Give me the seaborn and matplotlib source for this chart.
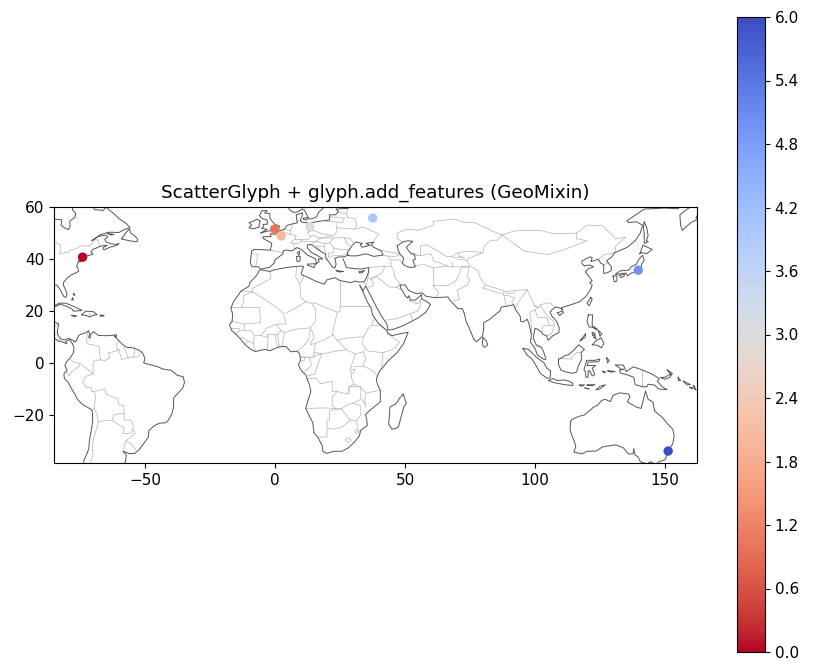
import numpy as np
import pandas as pd
import matplotlib
matplotlib.use("Agg")
import matplotlib.pyplot as plt
from matplotlib.cm import ScalarMappable
from matplotlib.colors import Normalize
import seaborn as sns

cities = ["New York", "London", "Paris", "Berlin", "Moscow", "Tokyo", "Sydney"]
lons = [-74.0, -0.1, 2.35, 13.4, 37.6, 139.7, 151.2]
lats = [40.7, 51.5, 48.85, 52.5, 55.75, 35.7, -33.9]
values = [0, 1, 2, 3, 4, 5, 6]
cbar_ticks = [0.0, 0.6, 1.2, 1.8, 2.4, 3.0, 3.6, 4.2, 4.8, 5.4, 6.0]

coast_lines = [
 [(-85,55.3),(-82,55.1),(-82.3,53),(-81,52),(-79.5,51.3),(-78.8,52.5),(-79,54.5),(-77,56),(-76.6,57.5),(-78,59),(-77.5,60.5)],
 [(-70,60.5),(-69.5,59),(-66,58.7),(-65,60),(-64,59),(-62,57.5),(-60,55.5),(-57,53.5),(-55.7,52),(-58,51.3),(-60,50.2),(-64,50.3),(-67,49.4),(-69,48),(-70.5,47),(-68,48.7),(-65,49.2),(-64.3,48.5),(-65.5,47.5),(-64.8,46.5),(-63,45.8),(-61,45.6),(-60,46),(-61,45.2),(-63.5,44.5),(-65.8,43.5),(-66.2,44.3),(-64.5,45.3),(-67,45),(-68.5,44.3),(-70,43.7),(-70.8,42.7),(-70,41.8),(-71.5,41.4),(-74,40.7),(-74,39.7),(-75,38.8),(-75.5,39.5),(-76,38),(-76.3,37),(-75.9,36.6),(-75.5,35.3),(-77,34.5),(-78.5,33.8),(-80,32.6),(-81.3,31),(-81.4,30),(-80.5,28),(-80,26.5),(-80.4,25.2),(-81.2,25.5),(-82,27),(-82.8,28.5),(-84,30),(-85,29.7),(-86,30.4)],
 [(-59,47.7),(-55.5,46.9),(-53,46.7),(-52.8,47.6),(-54,49),(-55.5,50),(-56,51.5),(-57.5,50),(-58.5,48.5),(-59,47.7)],
 [(-64.5,49.9),(-62,49.4),(-63,49.2),(-64.5,49.9)],
 [(-85,21.9),(-83,23),(-80.5,23),(-77.5,21.8),(-74.2,20.2),(-77.5,19.9),(-78,20.7),(-80,21.7),(-82.5,22.6),(-84,21.9),(-85,21.9)],
 [(-74.4,18.5),(-72.8,19.9),(-70,19.8),(-68.4,18.6),(-70,18.3),(-71.5,17.7),(-72.5,18.2),(-74.4,18.5)],
 [(-78.3,18.3),(-76.3,18.1),(-77,17.8),(-78.3,18.3)],
 [(-67.2,18.4),(-65.7,18.3),(-66,18),(-67.2,18),(-67.2,18.4)],
 [(-77.9,25),(-77.5,24.3),(-78.2,24.2),(-77.9,25)],
 [(-77.4,26.8),(-77.1,26),(-77.6,26.5),(-77.4,26.8)],
 [(-85,15.9),(-83.2,15),(-83.7,12.5),(-83.6,11),(-82.5,9.3),(-81,8.8),(-79.5,9.5),(-77.5,8.6),(-76.8,8),(-75.5,10.5),(-74.8,11),(-73,11.5),(-71.7,12.4),(-71.3,11),(-71.7,10),(-71.2,9.5),(-70.9,10.5),(-70.8,11),(-69.8,12.1),(-68,10.6),(-66,10.5),(-64,10.5),(-62,10.7),(-61,9.5),(-60,8.5),(-58.5,7),(-57,6),(-55,5.9),(-52.5,5),(-51,4),(-50,1.7),(-50.5,0),(-48,-0.7),(-45,-1.5),(-43,-2.4),(-40,-2.8),(-37.5,-4.8),(-35.3,-5.3),(-34.8,-7.5),(-35.5,-9.7),(-37.5,-11.8),(-39,-13.5),(-39,-17),(-39.7,-19.7),(-41,-22),(-42,-23),(-44.5,-23.2),(-46.5,-24.2),(-48.5,-26),(-48.7,-28.5),(-50.5,-31),(-52.5,-33.7),(-54,-34.8),(-56,-34.9),(-58.4,-34),(-57.2,-35.5),(-57.5,-38.1),(-58,-38.6)],
 [(-85.5,10),(-83.5,8.5),(-82,8.2),(-80,7.3),(-80.5,8.2),(-79,9),(-78,7.5),(-77.3,6),(-77.5,4),(-78.7,2),(-80,0.7),(-80.8,-1),(-80,-2.7),(-81.2,-4.3),(-81,-6),(-79.5,-7.5),(-78.5,-9.5),(-77,-12),(-76,-14),(-74,-16),(-71,-17.7),(-70.3,-18.5),(-70.1,-22),(-70.5,-25),(-71.4,-30),(-71.6,-33),(-72.8,-36),(-73.5,-37.5),(-73.6,-38.6)],
 [(-61.7,10.7),(-60.9,10.8),(-61,10.1),(-61.7,10.1),(-61.7,10.7)],
 [(-9,43),(-9.5,38.7),(-8.9,37),(-6.5,37),(-5.4,36.1),(-2,36.8),(-0.3,38.5),(0,39.7),(3,41.9),(3.2,43.2),(4.5,43.4),(6.5,43.1),(8.5,44.4),(10.3,43.5),(12.5,41.5),(15.6,40),(16,38.5),(15.7,38),(17,39),(16.6,40),(18.4,40),(16,41.5),(14,42.5),(12.5,44.2),(12.4,45.4),(13.8,45.6),(14.5,45.2),(17,43.3),(19.5,41.8),(19.5,40.3),(21,38.5),(22,37),(23,36.5),(23.5,38),(23,40.3),(24.5,40.8),(26.2,40.8),(27,41),(28,41.5)],
 [(26.2,40),(27,38),(27.5,36.7),(30.5,36.3),(33,36.1),(36,36.7),(36,35),(35,32.5),(34.3,31.3),(32.5,31.1),(31,31.5),(29,30.9),(25,31.7),(23,32.8),(20,32),(19,30.3),(15.5,31.5),(13,32.8),(10.5,33.8),(10,34.5),(11,37),(9.8,37.3),(5,36.8),(0,35.9),(-2,35.2),(-5.4,35.8),(-6,35.7),(-7,33.8),(-9.6,31),(-10,29.5),(-13,27.7),(-16,23.5),(-17,21),(-16.3,19),(-16.5,16),(-17.5,14.7),(-16.7,12.5),(-15,11),(-13.5,9.5),(-11.5,7),(-9,5),(-7.5,4.4),(-4,5.2),(-2,4.7),(1,6),(2.7,6.3),(4.3,6.3),(6,4.3),(8.5,4.5),(9.5,3.5),(9.8,1),(9,-0.7),(10,-2.8),(11.8,-4.6),(12.3,-6),(13.3,-8.5),(13.8,-11),(12.5,-15),(11.8,-17.5),(13.5,-21),(14.5,-22.9),(15,-27),(16.5,-28.6),(18.2,-32),(18.4,-34),(20,-34.8),(22.5,-34),(25.7,-34),(28,-32.8),(30.5,-30.5),(32.5,-28),(32.9,-26),(35.5,-24),(35.3,-22),(34.8,-19.8),(36.8,-18),(40.5,-15),(40.5,-10.5),(39.3,-8),(39,-6),(40.3,-3),(41.5,-1.7),(43.5,0.8),(47,4),(49.5,7.5),(51.2,11.8),(48,11.2),(45,10.5),(43.4,11.5),(43,12.5),(39.5,15.5),(37.5,18.5),(37,21),(35.5,23.5),(34,27),(32.6,29.9)],
 [(32.6,29.9),(33.8,27.8),(34.9,29.5),(37,25.5),(39,21.5),(41,18),(43,15),(43.4,12.7),(45,12.8),(49,14.2),(52,15.7),(55,17.3),(58,19.5),(59.8,22.4),(58.5,23.6),(56.5,24.5),(56.3,26.3),(55.5,25.5),(54,24.2),(52,24.2),(51.5,25.9),(51,25),(50.2,25.7),(48.5,28.5),(48,30),(50,30),(51.5,27.8),(54.5,26.6),(56.5,27),(58,25.7),(61.5,25.1),(66.5,25.4),(67.4,24),(69,22.3),(70.5,20.8),(72,21),(72.8,19),(73.5,16),(75,12.7),(76.5,9),(77.5,8.1),(79.8,10.3),(80.3,13.5),(80.2,15.5),(82.3,16.6),(86.5,20),(87,21.5),(89,21.8),(91.8,22.4),(92.5,20.5),(94.3,18),(94.5,16),(95.5,15.8),(97,16.8),(97.7,15),(98.6,11),(98.3,8),(100,5.5),(101,3),(103.5,1.3),(104.2,1.5),(103.4,4),(102.5,6),(100.5,7),(99.3,9.5),(100,13.3),(101,13),(102.3,12),(103,11),(104.5,10.4),(105,8.7),(106.8,10.4),(109.2,11.7),(109.3,13.5),(108.3,16),(106.5,18),(105.8,19.5),(106.8,20.7),(108,21.5),(110,21),(110.5,20.3),(110.2,21.3),(113.5,22.3),(117,23.5),(119.5,25.5),(121.5,28.5),(122,30),(121,31),(122,31.5),(120,34.3),(119.3,35),(120.5,36.2),(122.5,37),(121,37.7),(119,37.3),(118,38.3),(118,39.2),(121,40.8),(122,40.6),(121.5,39),(124.3,39.9),(125.2,38.5),(126.5,37.7),(126.3,35),(126.5,34.4),(128,34.8),(129.3,35.5),(129.4,37),(127.5,39.3),(129.5,40.8),(130.6,42.4),(132.5,43.2),(135.5,44.5),(138.5,47),(140.5,50),(141.4,53),(139,54.3),(136,54),(135.3,54.7),(138,56.5),(142,59.2),(146,59.4),(150,59.6),(155,59.3),(156.8,61)],
 [(163.5,60.5),(163,59.5),(163.2,57.8),(162,56.2),(162,55),(160,54),(158.5,52.8),(156.7,51),(156,53),(155.7,57),(157,58),(159,59.5),(161,60.5)],
 [(131,34.3),(133,35.5),(136,35.7),(137,37),(139,38),(140,40),(141.4,41.4),(142,39.5),(141,38),(140.8,35.7),(139.8,35),(137,34.6),(135.5,33.5),(135,34.6),(133,34.3),(131,34)],
 [(140.3,42),(141.5,45.3),(145,43.7),(143,42),(141,42.5),(140.3,42)],
 [(130,33.5),(131.5,33.5),(131.5,31.5),(130.5,31.2),(130,33.5)],
 [(132.5,33.7),(134.5,34.2),(134.2,33.4),(133,32.8),(132.5,33.7)],
 [(142,54.3),(143,52),(143.5,49),(142.8,47),(143.5,46.7),(142,46),(142,48),(142,50),(141.7,52),(142,54.3)],
 [(-1.8,43.4),(-8,43.7),(-9,43)],
 [(-1.8,43.4),(-1.2,46),(-4.5,47.9),(-4.7,48.5),(-1.5,48.7),(-1.8,49.7),(0.2,49.5),(1.6,50.8),(3.5,51.4),(4.8,53),(7,53.6),(8.6,53.9),(8.3,55.5),(8.2,57),(10.6,57.7),(10.3,56),(9.7,55),(10,54.4),(11,54),(14,54),(18.5,54.7),(21,55),(21,57),(23.3,57),(24.4,58.3),(23.5,59.2),(28,59.5),(30,60.5)],
 [(5,60.5),(5.5,59),(7,58),(8.5,58),(10.5,59.3),(11.5,58.5),(12.5,56.5),(13,55.4),(14.3,55.5),(16,56.2),(16.8,58),(18.5,59.5),(17.5,60.5)],
 [(-5.5,50),(-3,50.7),(1.3,51.2),(1.7,52.7),(0,53.3),(-1.5,55),(-2,56),(-2,57.5),(-4,57.7),(-3,58.6),(-5,58.6),(-6,56.7),(-4.8,55.5),(-3,55),(-3,53.4),(-4.5,53.3),(-4.3,52.5),(-5.2,51.8),(-3,51.4),(-5.5,50)],
 [(-6.2,52.2),(-6,53.8),(-5.6,54.6),(-7,55.3),(-8.5,54.5),(-10,54),(-9,53),(-10,52),(-8.5,51.6),(-6.2,52.2)],
 [(11,55.7),(12.5,56),(12.2,55),(11,55.2),(11,55.7)],
 [(28,41.5),(29,41.2),(31.5,41.2),(35,42),(38,41),(41.5,41.5),(41,43),(38,44.5),(37,45.3),(38,46.5),(35,46),(36.5,45.3),(35,44.9),(33.5,44.5),(32.8,45.5),(33.6,46),(31,46.5),(29.7,45.2),(28.5,43.5),(27.8,42.5),(28,41.5)],
 [(47,45),(49,46.5),(51,47),(53,46.8),(51,45),(50.5,44.4),(51.5,43),(52.5,42),(53.5,42),(54,40),(53,39.5),(54,37),(52,36.7),(50,37.4),(49,38.3),(49.5,40.3),(48,42),(47.3,43.5),(47,45)],
 [(95.3,5.6),(97.5,5.2),(100.5,2.2),(103.5,0),(104.5,-2),(106,-3),(105.8,-5.8),(104.5,-5.8),(102,-4),(100.4,-1),(98.7,1.7),(97,3),(95.3,5.6)],
 [(105.2,-6.8),(106.8,-6),(108.7,-6.8),(111,-6.5),(113,-7),(114.5,-7.8),(114.5,-8.7),(111,-8.3),(107,-7.5),(105.2,-6.8)],
 [(109,1.5),(110,1.7),(111.2,2.7),(113,3.2),(115,5),(116.8,7),(119,5.2),(117.7,4),(118,2),(117.5,0.5),(116.5,-1.5),(116,-3.5),(114.5,-4),(111.7,-3.4),(110,-2.8),(109,-0.5),(109,1.5)],
 [(119.8,0.7),(120,1),(123,1),(125,1.5),(124.5,0.5),(120.5,0.3),(120,-1),(121.5,-1),(123.3,-1),(122,-2),(123,-4.5),(122,-5),(121,-3),(120.5,-3),(120.4,-5.5),(119.5,-5.5),(119.5,-3.5),(118.8,-2.7),(119.8,0.7)],
 [(120.5,18.5),(122.2,18.5),(122,16),(122,14.3),(124,13),(123.8,12.7),(122,13.8),(120.8,13.8),(120,16),(120.5,18.5)],
 [(122,7),(123.5,8.5),(125.4,9.7),(126.5,7.5),(125.5,5.8),(124,6.8),(122,7)],
 [(117.2,8.4),(119.5,11.3),(119.3,10),(117.5,8.5)],
 [(124.3,12.5),(125.7,11.2),(125,10.2),(124.3,12.5)],
 [(122,11.8),(123.1,11.4),(122.1,10.5),(122,11.8)],
 [(123,10.9),(123.5,9.2),(122.5,9.9),(123,10.9)],
 [(127.5,2),(128.5,1),(127.9,0),(127.5,2)],
 [(128,-3),(130.8,-3.3),(129,-3.5),(128,-3)],
 [(126,-3.2),(127.2,-3.5),(126.5,-3.8),(126,-3.2)],
 [(123.5,-10.3),(125,-9),(127,-8.4),(125,-10),(123.5,-10.3)],
 [(120,-8.5),(123,-8.3),(122,-8.8),(120,-8.5)],
 [(117,-8.5),(119,-8.4),(118,-9),(117,-8.5)],
 [(119.2,-9.6),(120.8,-10),(119.5,-9.8),(119.2,-9.6)],
 [(131,-0.8),(134,-0.8),(135,-3.3),(137.8,-1.5),(141,-2.6),(145,-4.3),(147.8,-6),(147,-7),(149,-9.2),(150.8,-10.3),(147.5,-10),(146,-8.5),(143.5,-8.2),(143,-9.2),(141,-9.1),(138.5,-8.3),(138,-5.5),(135,-4.4),(133,-4),(132.5,-2.8),(134,-2.4),(133,-2.4),(131,-0.8)],
 [(148.3,-5.6),(150,-5.5),(152.2,-4.2),(152,-5.5),(150,-6.3),(148.3,-5.6)],
 [(150.8,-2.7),(152.8,-4),(152.5,-4.7),(150.8,-2.7)],
 [(155,-5.5),(156,-6.8),(155.3,-6.8),(155,-5.5)],
 [(157,-7),(159.7,-8.3),(158.5,-8.5),(157,-7)],
 [(159.5,-9.3),(160.8,-9.7),(160,-9.8),(159.5,-9.3)],
 [(161,-8.6),(162,-10.5),(161.3,-10),(161,-8.6)],
 [(113.7,-22.5),(114.2,-21.8),(116.7,-20.6),(119,-20),(122,-17.5),(122.3,-17.1),(124,-16.3),(125.7,-14.4),(127,-14),(129,-14.9),(130,-12.5),(132.5,-11.5),(136,-12),(136.5,-13),(135.5,-15),(139,-17),(140.8,-17.5),(141.7,-14),(142.5,-10.8),(143.5,-14),(145.3,-15),(146,-18.5),(149,-21),(151,-23.5),(153,-25.5),(153.5,-28),(153,-31),(151.5,-33.5),(150,-37.3),(148,-37.9),(146.3,-39),(144.5,-38),(143,-38.8),(140.5,-38),(139.5,-36),(138.5,-35.5),(138,-33),(137.7,-35),(136,-35),(135.5,-34.5),(134,-32.7),(131,-31.5),(126,-32.3),(123.5,-33.9),(120,-34),(118,-35),(115,-34.3),(115.7,-32),(115,-30),(113.5,-26),(113.7,-22.5)],
 [(49.3,-12),(50.5,-15.5),(49.5,-17),(47.5,-24.5),(46.5,-25.2),(45,-25.5),(43.7,-23.5),(44,-20),(44.2,-17),(46.5,-15.7),(48,-13.5),(49.3,-12)],
 [(80,9.7),(81.3,8.5),(81.8,7),(80.7,6),(80,6.5),(79.8,8),(80,9.7)],
 [(121.5,25.2),(122,24.5),(120.8,22),(120,23),(121.5,25.2)],
 [(108.7,19.3),(110.5,20),(111,19.5),(109.5,18.2),(108.7,19.3)],
 [(12.5,38),(15.6,38.2),(15,36.7),(12.5,37.6),(12.5,38)],
 [(8.2,41),(9.7,41),(9.6,39.2),(8.5,39),(8.2,41)],
 [(8.7,42.5),(9.4,43),(9.5,42),(9.2,41.4),(8.7,42),(8.7,42.5)],
 [(23.5,35.5),(26.3,35.2),(24.8,35),(23.5,35.5)],
 [(32.3,35),(34.5,35.6),(33.7,34.9),(32.7,34.6),(32.3,35)],
]

border_lines = [
 [(-84.5,46.5),(-82.5,45.3),(-82.5,43),(-83,42),(-79,42.8),(-79,43.3),(-76.5,44),(-74.7,45),(-71.5,45),(-70.3,46),(-69.2,47.4),(-68,47.3),(-67.8,45.7),(-67,44.9)],
 [(-85,11),(-83.7,10.9)],[(-82.6,9.5),(-83,8.2)],[(-77.4,8.6),(-77.9,7.2)],[(-83.2,15),(-85,14)],
 [(-72,11.8),(-72.5,9),(-72.2,7.3),(-70,7),(-67.5,6.2),(-67.5,3),(-67,1.2)],
 [(-67,1.2),(-69.5,1),(-70,-0.2),(-69.9,-4.2)],
 [(-69.9,-4.2),(-72,-2.5),(-75.2,-0.1),(-77.5,0.4),(-78.8,1.4)],
 [(-75.2,-0.1),(-75.5,-1.5),(-78.3,-3.5),(-79,-5),(-80.3,-3.4)],
 [(-67,1.2),(-65.5,0.8),(-63.5,2),(-64,4),(-61,4.5),(-60,5.2)],
 [(-60,5.2),(-60.7,5.2),(-61,7),(-60,8.5)],
 [(-60,5.2),(-59.9,4.5),(-59,1.3),(-56.5,1.9)],
 [(-58,6),(-57.3,4),(-56.5,1.9),(-54.6,2.3),(-52.5,2.3),(-51.7,4.1)],
 [(-54,5.8),(-54,3.5),(-54.6,2.3)],
 [(-69.9,-4.2),(-72.9,-5.2),(-74,-7.5),(-72.5,-9.5),(-70.6,-9.5),(-70.5,-11),(-69.5,-11)],
 [(-69.5,-11),(-65.4,-10),(-65,-12),(-60.5,-13.8),(-60,-16.2),(-58.2,-16.3),(-58,-19.8)],
 [(-69.5,-11),(-69,-13),(-69.5,-17),(-69.5,-17.5)],
 [(-69.5,-17.5),(-68.5,-19.5),(-68,-22.8)],
 [(-68,-22.8),(-65,-22),(-62.7,-22.2)],
 [(-62.7,-22.2),(-62,-20),(-59,-19.3),(-58,-19.8)],
 [(-58,-19.8),(-58,-22),(-55.5,-22),(-54.5,-24),(-54.6,-25.6)],
 [(-62.7,-22.2),(-58,-25),(-58.5,-27.2),(-55.5,-27),(-54.6,-25.6)],
 [(-54.6,-25.6),(-53.8,-27),(-57.5,-30.2),(-55.5,-31),(-53.3,-33.7)],
 [(-57.5,-30.2),(-58.2,-33),(-58.4,-34)],
 [(-68,-22.8),(-68.5,-25),(-69.5,-28),(-70.3,-32),(-70,-35),(-71,-38.6)],
 [(-70.3,-18.3),(-69.5,-17.5)],
 [(-71.7,19.8),(-71.7,18)],
 [(-1.8,43.4),(3.2,42.4)],
 [(-8.8,41.9),(-6.5,41.9),(-7,39.7),(-7.4,37.2)],
 [(2.5,51),(4.2,50),(5.8,49.5)],
 [(5.8,49.5),(8.2,49),(7.6,47.6)],
 [(7.6,47.6),(6,46.3),(7,45.9),(7.6,43.8)],
 [(7.6,47.6),(9.6,47.5),(10.4,46.8),(9,46),(7,45.9)],
 [(3.4,51.4),(6,51),(6,50.2),(5.8,49.5)],[(6,51),(7,53.3)],
 [(8.6,54.9),(9.9,54.8)],
 [(14.2,53.9),(14.7,51),(12.3,50.3),(13.8,48.7),(13,47.6),(9.6,47.5)],
 [(10.4,46.8),(13,46.6),(16,46.8),(17,48),(15,49),(13.8,48.7)],
 [(14.7,51),(18.8,49.5),(22.5,49),(17,48)],
 [(17,48),(22.5,48.1),(21,46.2),(18.8,45.9),(16,46.8)],
 [(22.5,48.1),(26.6,48.2),(28,45.5),(29,45.4)],
 [(21,46.2),(22.7,44.2),(25,43.7),(28.5,43.7)],
 [(22.5,49),(24,50.7),(23.6,52),(23.5,53.9)],
 [(23.6,52),(30.5,51.5),(34,52.3),(40,49.6),(38,47)],
 [(26.6,48.2),(29,47.8),(30,46.3)],
 [(30.5,51.5),(31.5,53),(30.8,55.5),(28,56)],
 [(19.5,54.4),(22.8,54.4),(26,54),(26.7,55.7),(21,56.3)],
 [(24.4,57.9),(27.5,57.5)],[(28,56),(27.5,57.5),(28,59.5)],
 [(12.5,60.5),(11.3,59)],
 [(13.7,45.5),(16,46.8)],
 [(18.8,45.9),(19,44.8),(15.8,45),(17.6,43)],
 [(19,44.8),(19.2,43.5),(19.4,41.9)],
 [(22.7,44.2),(22.4,42.3),(20.5,42.3),(20.6,41),(20,39.7)],
 [(20.6,41),(23,41.3),(26.2,41.3),(26.3,40.8)],[(26.3,41.7),(28,42)],
 [(36,36.7),(42.3,37.2)],
 [(42.3,37.2),(44.7,37.2),(44.5,39.7),(43.5,41.1),(41.5,41.5)],
 [(40,43.5),(44,42.7),(48.3,41.9),(46.5,41),(43.5,41.1)],[(44.8,39.7),(48,39.6),(49,38.3)],
 [(44.7,37.2),(46,35),(46,33),(48.5,30)],
 [(42.3,37.2),(41,34.5),(38.8,33.4),(36.5,32.3),(35.7,32.7),(36,34.6)],
 [(34.9,29.5),(35.5,31.5),(35.7,32.7)],[(34.3,31.3),(34.9,29.5)],
 [(38.8,33.4),(37,32),(38,30.5),(37,29.3),(35,29.3)],
 [(38.8,33.4),(44,29.2),(46.5,29.1),(48.4,28.5)],[(46.5,29.1),(48,30)],
 [(43,16.5),(47,17),(52,19),(55,20),(56,22.5),(56,24.5)],[(53,16.6),(52,19)],[(51.6,24),(55,22.7),(56,24.5)],
 [(54,37.3),(57,38),(61,36.6),(61,34),(61,31.5),(60.8,29.8)],
 [(60.8,29.8),(63,27),(61.5,25.1)],
 [(60.8,29.8),(66.5,29.8),(69.5,31.5),(71,34.3),(71.5,36.5),(74.5,37)],
 [(61,36.6),(65,37.2),(68,37),(71.5,37),(74.8,37.3)],
 [(49,46.5),(47,48),(47,50),(51,51.5),(55,51),(61,53),(61,54.5),(69,55.3),(73,54),(76.8,54),(83,51),(87.3,49.2)],
 [(52.5,42),(56,41.3),(56,45),(58.5,45.5),(61,44),(66,41),(68,41),(70.5,42.5),(74,43),(80,42.5),(80.5,45),(83,47.2),(85.5,47.2),(87.3,49.2)],
 [(54,41.5),(56,41.3),(60,42),(61,39.3),(66.5,37.3)],
 [(68,41),(70,40),(73.7,39.5)],[(68,39),(68,37)],[(70.5,42.5),(71,41),(73,40.5),(70,40.8)],
 [(80,42.5),(74,40),(73.7,39.5),(75,37.3)],
 [(75,37.3),(78,35.5),(79,32.5),(81,30),(88,27.8),(88.9,27.5),(92,27.8),(97,28.2),(98.5,25),(99.5,22.5),(101.5,21.2),(102,22.4),(105.3,23.2),(108,21.5)],
 [(74.5,37),(74,33),(75,32.3),(74,30),(70,28),(71,24.5),(68.5,23.8)],
 [(81,30),(80,28.8),(88,26.4),(88,27.8)],
 [(88,26),(89.5,26),(92.3,25),(91,23.5),(92.5,21)],[(88,26),(88.9,21.8)],
 [(88.9,27.5),(89,26.8),(92,26.8),(92,27.8)],
 [(97,28.2),(94,24),(93,22),(92.5,21)],
 [(99.5,22),(101.2,21.3),(100,20.4),(98,19.5),(98.5,16),(98.8,11)],
 [(100,20.4),(101,17.5),(104.5,17.5),(105.5,14.5)],
 [(102,22.4),(104,19),(107,16),(107.5,14.5)],
 [(102.8,12),(102.8,14.2),(105.5,14.5),(107.5,14.5),(106.2,11),(104.5,10.4)],
 [(100.2,6.5),(102,6)],
 [(124.3,39.9),(126.8,41.7),(128.3,42),(130.6,42.4)],[(126.7,37.9),(128.4,38.6)],
 [(87.3,49.2),(92,50.8),(98,51),(102,51),(107,49.8),(113,49.8),(116,50)],
 [(87.3,49.2),(91,46.5),(96,43),(105,41.7),(111,43.5),(120,47),(116,47.8),(116,50)],
 [(116,50),(120,53),(126,52.8),(131,47.7),(135,48.4),(131,45),(131,43),(130.6,42.4)],
 [(109.6,2),(112,1.5),(114,1.5),(115,3),(116,4),(118,4.2)],
 [(141,-2.6),(141,-9.1)],
 [(-2,35.1),(-1.5,32.5),(-8.7,28.7),(-8.7,27.3)],
 [(-13,27.7),(-8.7,27.7),(-8.7,27.3)],
 [(-12,26),(-12,23.5),(-13,21.3),(-17,21.3)],[(-12,26),(-8.7,27.3),(-4.8,25)],
 [(-13,21.3),(-6,21.3),(-5.5,15.5),(-12,15),(-16.5,16)],
 [(-4.8,25),(1,21),(3.3,19),(4.2,15)],
 [(8.3,37),(8,33),(9.5,30.2)],
 [(11,33.2),(9.5,30.2),(10,25),(12,23.5)],
 [(12,23.5),(14,23),(15.5,21),(15.7,16.5),(13.7,13.5),(8,13),(3.7,11.7),(2.3,12.5),(0.5,14.9),(4.2,15)],
 [(4.2,19.1),(12,23.5)],
 [(25,31.7),(25,22)],
 [(25,22),(25,20),(24,19.5),(15.5,23),(14,23)],
 [(25,22),(37,22)],
 [(24,19.5),(23,15.5),(22,11),(24,8.5)],
 [(22.8,11),(19,9),(15.5,7.5)],
 [(14,12.8),(15,10),(13.5,7),(15.5,7.5)],
 [(13.7,13.5),(13,9),(11,6.5),(8.5,4.5)],
 [(3.7,11.7),(2.7,6.3)],[(1,11),(1.7,6.2)],[(0,11),(0.5,8),(1.2,6)],
 [(-5.5,10.5),(-3,9.9),(-2.8,11),(1,11),(2.3,12.5)],[(0.5,14.9),(-3,13.5),(-5.5,10.5)],
 [(-2.8,11),(-2.7,9.5),(-3,5)],
 [(-8,10.5),(-8.3,7.5),(-7.5,4.4)],
 [(-15,11),(-13.7,12.7),(-12,12.5),(-9,12.3),(-8,10.5),(-5.5,10.5)],
 [(-13.2,9.5),(-12.5,9.9),(-10.5,8.5),(-11.5,7)],[(-10.5,8.5),(-8.3,7.5)],
 [(-12,15),(-12,12.5)],[(-16.8,13.6),(-14,13.6)],
 [(36.5,14.3),(34,10),(33.5,7.5),(35,5)],
 [(43,12.5),(40,14.5),(37,14.3),(38.5,18)],
 [(43,11.5),(48,8),(45,5),(41.5,4),(36,4.5),(35,5)],
 [(41.5,4),(41,-1.7)],
 [(34,4.3),(35,1.5),(33.9,0),(33.9,-1),(37.5,-3),(39.2,-4.7)],
 [(24,8.7),(27,9.5),(32,10),(34,10)],
 [(15.5,7.5),(15,4),(18.6,3.5),(23,4.5),(27.5,5),(31,3.5),(30,1),(29,-2.5),(29.5,-6),(30.5,-8.2),(28.5,-9),(28.5,-12)],
 [(24,8.7),(27.5,5)],
 [(31,3.5),(34,4.3)],[(30,-1),(33.9,-1)],
 [(29,-2.7),(30.8,-2.4),(30.5,-3.5),(29.4,-4.4)],
 [(9.8,2.2),(13.3,2.2),(14,-1),(11.2,-3.5)],[(9.8,1),(11.3,1),(11.3,2.2)],
 [(9.8,2.3),(15,2.2),(15,4)],
 [(14,2.2),(18,3.5),(16,-2),(15.3,-4.3),(12.5,-5)],
 [(12.3,-6),(16,-6),(17.5,-8),(22,-7),(22,-11),(24,-11),(22,-13),(22,-16.5),(23.4,-17.6),(19,-17.3),(11.8,-17.5)],
 [(24,-11),(28,-12),(28.5,-9),(33,-9.3),(33,-14),(30,-15.5),(28,-16),(25.5,-17.7),(23.4,-17.6)],
 [(33,-9.3),(35,-11.5),(34.5,-14.5),(35,-16.8),(33.5,-14)],
 [(34.9,-11.6),(40.5,-10.5)],[(30.5,-8.2),(33,-9.3)],
 [(30,-15.5),(33,-16.5),(33,-20),(31.3,-22.4),(32,-26),(32.9,-26.8)],
 [(25.5,-17.7),(29,-22),(31.3,-22.4)],
 [(25.5,-17.7),(21,-18.3),(21,-22),(20,-22),(20,-28.5),(16.5,-28.6)],
 [(20,-25),(23,-25.5),(26,-24.5),(29,-22)],
 [(27,-29.6),(28.5,-28.7),(29.3,-29.8),(28,-30.6),(27,-29.6)],
 [(31,-25.8),(32,-26),(32,-27),(31,-27),(31,-25.8)],
]


def lines_frame(lines):
    rows = [(i, lo, la) for i, ln in enumerate(lines) for lo, la in ln]
    return pd.DataFrame(rows, columns=["line", "lon", "lat"])


sns.set_style("ticks")
sns.set_style({"axes.edgecolor": "black", "xtick.color": "black", "ytick.color": "black",
               "text.color": "black", "axes.labelcolor": "black", "font.family": ["DejaVu Sans"]})
plt.rcParams.update({"xtick.direction": "out", "ytick.direction": "out",
                     "axes.linewidth": 0.8, "xtick.major.size": 3.5, "ytick.major.size": 3.5,
                     "xtick.major.width": 0.8, "ytick.major.width": 0.8,
                     "xtick.labelsize": 11, "ytick.labelsize": 11, "axes.titlesize": 13.25})

W, H = 815, 672
fig = plt.figure(figsize=(W / 100, H / 100), dpi=100)
ax = fig.add_axes([54 / W, 1 - 463 / H, (697 - 54) / W, (463 - 207) / H])
cax = fig.add_axes([737 / W, 1 - 652 / H, (765 - 737) / W, (652 - 17) / H])

sns.lineplot(data=lines_frame(border_lines), x="lon", y="lat", units="line", estimator=None,
             sort=False, color="#b8b8b8", lw=0.55, ax=ax, zorder=1)
sns.lineplot(data=lines_frame(coast_lines), x="lon", y="lat", units="line", estimator=None,
             sort=False, color="#555555", lw=0.7, ax=ax, zorder=2)

points = pd.DataFrame({"city": cities, "lon": lons, "lat": lats, "value": values})
norm = Normalize(0, 6)
sns.scatterplot(data=points, x="lon", y="lat", hue="value", palette="coolwarm_r", hue_norm=norm,
                s=46, linewidth=0, legend=False, ax=ax, zorder=3)

ax.set_xlim(-85, 162.3)
ax.set_ylim(-38.5, 60)
ax.set_xticks([-50, 0, 50, 100, 150])
ax.set_yticks([-20, 0, 20, 40, 60])
ax.set_xlabel("")
ax.set_ylabel("")
ax.set_title("ScatterGlyph + glyph.add_features (GeoMixin)", pad=6.5)

sm = ScalarMappable(norm=norm, cmap="coolwarm_r")
cb = fig.colorbar(sm, cax=cax, ticks=cbar_ticks, format="%.1f")
cb.ax.tick_params(labelsize=11)

fig.savefig("out.png", dpi=100)
